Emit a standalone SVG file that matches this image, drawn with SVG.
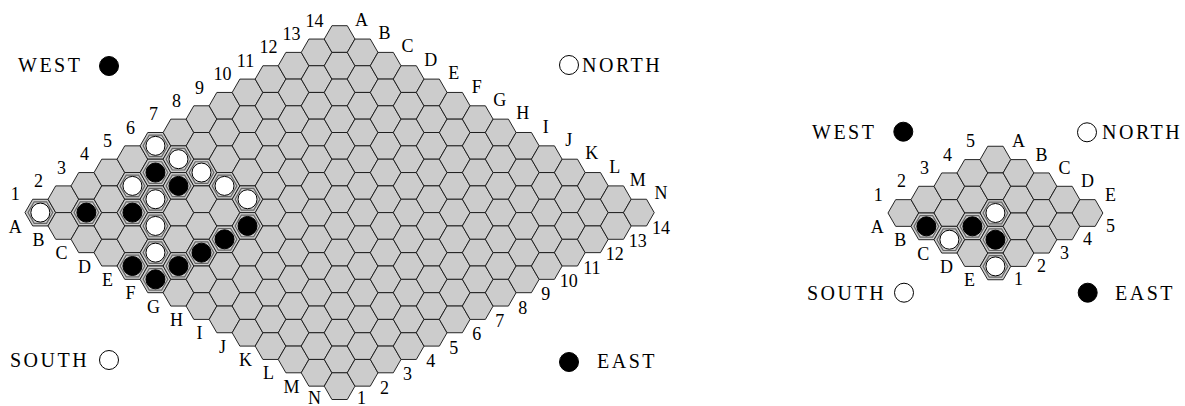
<svg xmlns="http://www.w3.org/2000/svg" xmlns:xlink="http://www.w3.org/1999/xlink" width="1185" height="406" viewBox="0 0 1185 406">
<style>
.cell{fill:#cccccc;stroke:#1a1a1a;stroke-width:0.95;stroke-linejoin:round}
.hi{fill:none;stroke:#666;stroke-width:1.2}
.w{fill:#fff;stroke:#000;stroke-width:1}
.b{fill:#000;stroke:#000;stroke-width:1}
.lbl{font-family:"Liberation Serif","DejaVu Serif",serif;font-size:18px;fill:#000;text-anchor:middle}
.cmp{font-family:"Liberation Serif","DejaVu Serif",serif;font-size:20px;letter-spacing:2.5px;fill:#000}
</style>
<defs>
<path id="hx" class="cell" d="M-15.35,0 L-7.675,-13.35 L7.675,-13.35 L15.35,0 L7.675,13.35 L-7.675,13.35 Z"/>
<path id="hh" class="hi" d="M-12.4,0 L-6.2,-10.8 L6.2,-10.8 L12.4,0 L6.2,10.8 L-6.2,10.8 Z"/>
<g id="r5">
<use href="#hx" x="0" y="0"/><use href="#hx" x="23.02" y="-13.35"/><use href="#hx" x="46.04" y="-26.7"/><use href="#hx" x="69.06" y="-40.05"/><use href="#hx" x="92.08" y="-53.4"/>
</g>
<g id="r14">
<use href="#r5" x="0" y="0"/><use href="#r5" x="115.1" y="-66.75"/>
<use href="#hx" x="230.2" y="-133.5"/><use href="#hx" x="253.22" y="-146.85"/><use href="#hx" x="276.24" y="-160.2"/><use href="#hx" x="299.26" y="-173.55"/>
</g>
</defs>
<rect width="1185" height="406" fill="#fff"/>

<g id="board14">
<use href="#r14" x="40.35" y="212.6"/>
<use href="#r14" x="63.37" y="225.95"/>
<use href="#r14" x="86.39" y="239.3"/>
<use href="#r14" x="109.41" y="252.65"/>
<use href="#r14" x="132.43" y="266"/>
<use href="#r14" x="155.45" y="279.35"/>
<use href="#r14" x="178.47" y="292.7"/>
<use href="#r14" x="201.49" y="306.05"/>
<use href="#r14" x="224.51" y="319.4"/>
<use href="#r14" x="247.53" y="332.75"/>
<use href="#r14" x="270.55" y="346.1"/>
<use href="#r14" x="293.57" y="359.45"/>
<use href="#r14" x="316.59" y="372.8"/>
<use href="#r14" x="339.61" y="386.15"/>
</g>

<g id="stones14">
<use href="#hh" x="40.35" y="212.6"/><circle class="w" cx="40.35" cy="212.6" r="9.5"/>
<use href="#hh" x="132.43" y="185.9"/><circle class="w" cx="132.43" cy="185.9" r="9.5"/>
<use href="#hh" x="155.45" y="145.85"/><circle class="w" cx="155.45" cy="145.85" r="9.5"/>
<use href="#hh" x="178.47" y="159.2"/><circle class="w" cx="178.47" cy="159.2" r="9.5"/>
<use href="#hh" x="201.49" y="172.55"/><circle class="w" cx="201.49" cy="172.55" r="9.5"/>
<use href="#hh" x="224.51" y="185.9"/><circle class="w" cx="224.51" cy="185.9" r="9.5"/>
<use href="#hh" x="155.45" y="199.25"/><circle class="w" cx="155.45" cy="199.25" r="9.5"/>
<use href="#hh" x="247.53" y="199.25"/><circle class="w" cx="247.53" cy="199.25" r="9.5"/>
<use href="#hh" x="155.45" y="225.95"/><circle class="w" cx="155.45" cy="225.95" r="9.5"/>
<use href="#hh" x="155.45" y="252.65"/><circle class="w" cx="155.45" cy="252.65" r="9.5"/>
<use href="#hh" x="86.39" y="212.6"/><circle class="b" cx="86.39" cy="212.6" r="9.5"/>
<use href="#hh" x="132.43" y="212.6"/><circle class="b" cx="132.43" cy="212.6" r="9.5"/>
<use href="#hh" x="155.45" y="172.55"/><circle class="b" cx="155.45" cy="172.55" r="9.5"/>
<use href="#hh" x="178.47" y="185.9"/><circle class="b" cx="178.47" cy="185.9" r="9.5"/>
<use href="#hh" x="247.53" y="225.95"/><circle class="b" cx="247.53" cy="225.95" r="9.5"/>
<use href="#hh" x="224.51" y="239.3"/><circle class="b" cx="224.51" cy="239.3" r="9.5"/>
<use href="#hh" x="201.49" y="252.65"/><circle class="b" cx="201.49" cy="252.65" r="9.5"/>
<use href="#hh" x="178.47" y="266"/><circle class="b" cx="178.47" cy="266" r="9.5"/>
<use href="#hh" x="132.43" y="266"/><circle class="b" cx="132.43" cy="266" r="9.5"/>
<use href="#hh" x="155.45" y="279.35"/><circle class="b" cx="155.45" cy="279.35" r="9.5"/>
</g>

<g id="labels14" class="lbl">
<text x="15.3" y="200.3">1</text><text x="38.4" y="186.9">2</text><text x="61.4" y="173.6">3</text><text x="84.4" y="160.2">4</text><text x="107.4" y="146.9">5</text><text x="130.4" y="133.5">6</text><text x="153.5" y="120.2">7</text><text x="176.5" y="106.8">8</text><text x="199.5" y="93.5">9</text><text x="222.5" y="80.1">10</text><text x="245.5" y="66.8">11</text><text x="268.6" y="53.4">12</text><text x="291.6" y="40.1">13</text><text x="314.6" y="26.7">14</text>
<text x="361.6" y="25.7">A</text><text x="384.6" y="39.1">B</text><text x="407.6" y="52.4">C</text><text x="430.7" y="65.8">D</text><text x="453.7" y="79.1">E</text><text x="476.7" y="92.5">F</text><text x="499.7" y="105.8">G</text><text x="522.7" y="119.2">H</text><text x="545.8" y="132.5">I</text><text x="568.8" y="145.9">J</text><text x="591.8" y="159.2">K</text><text x="614.8" y="172.6">L</text><text x="637.8" y="185.9">M</text><text x="660.9" y="199.3">N</text>
<text x="15.3" y="232.5">A</text><text x="38.4" y="245.9">B</text><text x="61.4" y="259.2">C</text><text x="84.4" y="272.6">D</text><text x="107.4" y="285.9">E</text><text x="130.4" y="299.3">F</text><text x="153.5" y="312.6">G</text><text x="176.5" y="326">H</text><text x="199.5" y="339.3">I</text><text x="222.5" y="352.7">J</text><text x="245.5" y="366">K</text><text x="268.6" y="379.4">L</text><text x="291.6" y="392.7">M</text><text x="314.6" y="403.5">N</text>
<text x="361.6" y="403.5">1</text><text x="384.6" y="393.7">2</text><text x="407.6" y="380.3">3</text><text x="430.7" y="367">4</text><text x="453.7" y="353.6">5</text><text x="476.7" y="340.3">6</text><text x="499.7" y="326.9">7</text><text x="522.7" y="313.6">8</text><text x="545.8" y="300.2">9</text><text x="568.8" y="286.9">10</text><text x="591.8" y="273.5">11</text><text x="614.8" y="260.2">12</text><text x="637.8" y="246.8">13</text><text x="660.9" y="233.5">14</text>
</g>

<g id="compass14">
<text class="cmp" x="18" y="72">WEST</text><circle class="b" cx="109" cy="66" r="9.5"/>
<circle class="w" cx="569" cy="65" r="9.5"/><text class="cmp" x="582" y="72">NORTH</text>
<text class="cmp" x="10" y="367">SOUTH</text><circle class="w" cx="109" cy="360" r="9.5"/>
<circle class="b" cx="569" cy="362" r="9.5"/><text class="cmp" x="597" y="368">EAST</text>
</g>

<g id="board5">
<use href="#r5" x="903.35" y="213"/>
<use href="#r5" x="926.37" y="226.35"/>
<use href="#r5" x="949.39" y="239.7"/>
<use href="#r5" x="972.41" y="253.05"/>
<use href="#r5" x="995.43" y="266.4"/>
</g>

<g id="stones5">
<use href="#hh" x="995.43" y="213"/><circle class="w" cx="995.43" cy="213" r="9.5"/>
<use href="#hh" x="949.39" y="239.7"/><circle class="w" cx="949.39" cy="239.7" r="9.5"/>
<use href="#hh" x="995.43" y="266.4"/><circle class="w" cx="995.43" cy="266.4" r="9.5"/>
<use href="#hh" x="926.37" y="226.35"/><circle class="b" cx="926.37" cy="226.35" r="9.5"/>
<use href="#hh" x="972.41" y="226.35"/><circle class="b" cx="972.41" cy="226.35" r="9.5"/>
<use href="#hh" x="995.43" y="239.7"/><circle class="b" cx="995.43" cy="239.7" r="9.5"/>
</g>

<g id="labels5" class="lbl">
<text x="878.3" y="200.7">1</text><text x="901.4" y="187.3">2</text><text x="924.4" y="174">3</text><text x="947.4" y="160.6">4</text><text x="970.4" y="147.3">5</text>
<text x="1018.5" y="147.3">A</text><text x="1041.5" y="160.6">B</text><text x="1064.5" y="174">C</text><text x="1087.5" y="187.3">D</text><text x="1110.5" y="200.7">E</text>
<text x="877.3" y="232.9">A</text><text x="900.3" y="246.2">B</text><text x="923.3" y="259.6">C</text><text x="946.4" y="272.9">D</text><text x="969.4" y="286.3">E</text>
<text x="1018.5" y="285.3">1</text><text x="1041.5" y="271.9">2</text><text x="1064.5" y="258.6">3</text><text x="1087.5" y="245.2">4</text><text x="1110.5" y="231.9">5</text>
</g>

<g id="compass5">
<text class="cmp" x="812" y="139">WEST</text><circle class="b" cx="903.3" cy="131.7" r="9.5"/>
<circle class="w" cx="1087" cy="132.3" r="9.5"/><text class="cmp" x="1102" y="139">NORTH</text>
<text class="cmp" x="807" y="300">SOUTH</text><circle class="w" cx="904" cy="292.7" r="9.5"/>
<circle class="b" cx="1087.7" cy="292.7" r="9.5"/><text class="cmp" x="1115" y="300">EAST</text>
</g>
</svg>
